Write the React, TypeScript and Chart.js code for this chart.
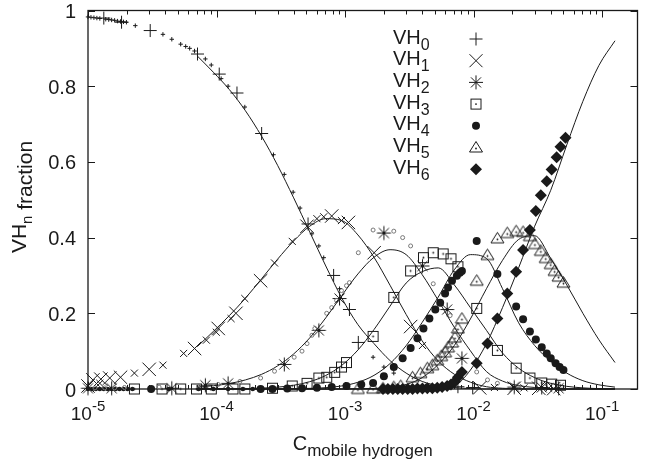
import React, { useEffect, useRef } from 'react';
import { Chart, registerables } from 'chart.js';

Chart.register(...registerables);

type Pair = [number, number]; // [log10(C mobile hydrogen), VHn fraction]

// ---- model curves: sampled at log10(C) positions ----
const curveLogC = [-4.15, -4.025, -3.9, -3.775, -3.65, -3.525, -3.4, -3.275, -3.15, -3.025, -2.9, -2.775, -2.65, -2.525, -2.4, -2.275, -2.15, -2.025, -1.9, -1.775, -1.65, -1.525, -1.4, -1.275, -1.15, -1.025, -0.9];
const curveVH0 = [0.88, 0.837, 0.791, 0.735, 0.668, 0.591, 0.505, 0.415, 0.325, 0.24, 0.17, 0.12, 0.075, 0.042, 0.02, 0.009, 0.004, 0.001, 0, 0, 0, 0, 0, 0, 0, 0, 0];
const curveVH1 = [0.112, 0.152, 0.194, 0.24, 0.291, 0.343, 0.391, 0.43, 0.45, 0.445, 0.407, 0.348, 0.274, 0.197, 0.127, 0.074, 0.039, 0.018, 0.006, 0.002, 0.0005, 0, 0, 0, 0, 0, 0];
const curveVH2 = [0.005, 0.0086, 0.0145, 0.024, 0.0387, 0.061, 0.0926, 0.135, 0.188, 0.247, 0.304, 0.348, 0.368, 0.355, 0.302, 0.234, 0.163, 0.101, 0.046, 0.021, 0.009, 0.004, 0.001, 0, 0, 0, 0];
const curveVH3 = [0, 0.0002, 0.0005, 0.0011, 0.0023, 0.0049, 0.0099, 0.0193, 0.0358, 0.0627, 0.103, 0.157, 0.219, 0.28, 0.31, 0.32, 0.275, 0.215, 0.155, 0.095, 0.055, 0.03, 0.015, 0.007, 0.003, 0.001, 0.0005];
const curveVH4 = [0, 0, 0, 0, 0.0001, 0.0002, 0.0005, 0.0014, 0.0035, 0.0081, 0.0178, 0.036, 0.0673, 0.1145, 0.176, 0.243, 0.315, 0.355, 0.345, 0.265, 0.175, 0.115, 0.073, 0.042, 0.022, 0.011, 0.005];
const curveVH5 = [0, 0, 0, 0, 0, 0, 0, 0, 0, 0.0002, 0.0005, 0.0015, 0.004, 0.012, 0.03, 0.065, 0.115, 0.185, 0.265, 0.34, 0.395, 0.405, 0.345, 0.275, 0.2, 0.13, 0.07];
const curveVH6 = [0, 0, 0, 0, 0, 0, 0, 0, 0, 0, 0, 0, 0, 0, 0.0005, 0.002, 0.008, 0.05, 0.12, 0.215, 0.32, 0.43, 0.525, 0.645, 0.76, 0.855, 0.92];

// ---- measured points ----
const vh0Big: Pair[] = [[-4.877, 0.98], [-4.739, 0.969], [-4.516, 0.947], [-4.148, 0.885], [-3.979, 0.832], [-3.841, 0.782], [-3.649, 0.675], [-3.288, 0.436], [-3.089, 0.3], [-2.966, 0.21], [-2.897, 0.123], [-2.122, 0.006], [-2.007, 0.004]];
const vh0Small: Pair[] = [[-5.0, 0.983], [-4.977, 0.982], [-4.954, 0.981], [-4.931, 0.98], [-4.908, 0.979], [-4.862, 0.977], [-4.839, 0.976], [-4.816, 0.975], [-4.793, 0.974], [-4.77, 0.972], [-4.747, 0.971], [-4.724, 0.97], [-4.701, 0.969], [-4.632, 0.96], [-4.417, 0.937], [-4.348, 0.924], [-4.279, 0.911], [-4.24, 0.905], [-4.209, 0.9], [-4.171, 0.893], [-4.087, 0.872], [-4.041, 0.856], [-3.964, 0.82], [-3.91, 0.8], [-3.78, 0.745], [-3.557, 0.619], [-3.473, 0.567], [-3.404, 0.52], [-3.35, 0.478], [-3.258, 0.41], [-3.204, 0.378], [-3.166, 0.347], [-3.043, 0.265], [-2.782, 0.084], [-2.698, 0.058], [-2.621, 0.042], [-2.375, 0.008], [-2.183, 0.003]];
const vh1Big: Pair[] = [[-5.0, 0.008], [-4.962, 0.024], [-4.9, 0.026], [-4.831, 0.029], [-4.747, 0.031], [-4.524, 0.052], [-4.171, 0.107], [-3.987, 0.16], [-3.849, 0.2], [-3.657, 0.286], [-3.296, 0.43], [-3.104, 0.457], [-2.974, 0.44], [-2.774, 0.36], [-2.49, 0.165], [-1.953, 0.003], [-1.684, 0.002], [-1.493, 0.002], [-1.377, 0.001]];
const vh1Small: Pair[] = [[-4.908, 0.015], [-4.639, 0.042], [-4.417, 0.063], [-4.256, 0.094], [-4.079, 0.129], [-4.002, 0.15], [-3.887, 0.186], [-3.78, 0.239], [-3.549, 0.333], [-3.411, 0.39], [-3.219, 0.45], [-3.166, 0.455], [-3.028, 0.445], [-2.398, 0.115], [-1.838, 0.004], [-1.608, 0.003], [-1.416, 0.002]];
const vh2Big: Pair[] = [[-5.0, 0.002], [-4.816, 0.002], [-4.348, 0.002], [-4.087, 0.01], [-3.91, 0.015], [-3.473, 0.065], [-3.204, 0.155], [-3.043, 0.239], [-2.698, 0.412], [-2.398, 0.325], [-2.206, 0.21], [-2.091, 0.081], [-1.684, 0.005], [-1.47, 0.004], [-1.339, 0.002]];
const vh2Small: Pair[] = [[-4.946, 0.003], [-4.87, 0.003], [-4.793, 0.003], [-4.716, 0.004], [-4.447, 0.005], [-4.14, 0.008], [-3.987, 0.012], [-3.818, 0.02], [-3.657, 0.029], [-3.549, 0.047], [-3.396, 0.084], [-3.335, 0.1], [-3.296, 0.12], [-3.258, 0.142], [-3.235, 0.16], [-3.143, 0.2], [-3.104, 0.215], [-3.066, 0.234], [-3.028, 0.26], [-2.989, 0.273], [-2.966, 0.281], [-2.897, 0.36], [-2.782, 0.42], [-2.621, 0.417], [-2.552, 0.4], [-2.49, 0.378], [-2.314, 0.278], [-2.183, 0.194], [-2.145, 0.155], [-1.976, 0.045], [-1.892, 0.024], [-1.815, 0.015]];
const vh3Pts: Pair[] = [[-4.639, 0], [-4.424, 0], [-4.279, 0], [-4.156, 0], [-4.041, 0], [-3.872, 0], [-3.78, 0], [-3.565, 0.002], [-3.411, 0.008], [-3.296, 0.015], [-3.204, 0.029], [-3.143, 0.031], [-3.081, 0.044], [-3.028, 0.058], [-2.989, 0.07], [-2.782, 0.139], [-2.621, 0.242], [-2.49, 0.312], [-2.39, 0.347], [-2.314, 0.36], [-2.237, 0.357], [-2.176, 0.344], [-2.122, 0.323], [-1.976, 0.213], [-1.815, 0.102], [-1.669, 0.055], [-1.562, 0.029], [-1.47, 0.016], [-1.393, 0.013], [-1.324, 0.01]];
const vh4Big: Pair[] = [[-4.509, 0], [-3.657, 0], [-3.565, 0], [-3.45, 0.001], [-3.335, 0.002], [-3.219, 0.003], [-3.104, 0.005], [-2.989, 0.008], [-2.874, 0.012], [-2.782, 0.016], [-2.698, 0.034], [-2.621, 0.058], [-2.552, 0.081], [-2.49, 0.108], [-2.437, 0.134], [-2.39, 0.16], [-2.344, 0.186], [-2.298, 0.21], [-2.26, 0.228], [-2.222, 0.252], [-2.199, 0.268], [-2.168, 0.286], [-2.13, 0.299], [-2.107, 0.307], [-2.091, 0.312], [-1.976, 0.391], [-1.815, 0.304], [-1.669, 0.218], [-1.615, 0.184], [-1.562, 0.152], [-1.516, 0.131], [-1.47, 0.11], [-1.431, 0.094], [-1.4, 0.081], [-1.362, 0.068], [-1.331, 0.058], [-1.301, 0.05]];
const vh4Small: Pair[] = [[-5.0, 0], [-4.969, 0], [-4.939, 0], [-4.908, 0], [-4.877, 0], [-4.847, 0], [-4.816, 0], [-4.785, 0], [-4.755, 0], [-4.724, 0], [-4.693, 0], [-4.655, 0], [-4.371, 0], [-4.14, 0], [-4.025, 0], [-3.91, 0], [-3.795, 0], [-3.718, 0]];
const vh5Pts: Pair[] = [[-2.9, 0], [-2.782, 0.001], [-2.705, 0.002], [-2.621, 0.005], [-2.567, 0.008], [-2.475, 0.031], [-2.414, 0.042], [-2.36, 0.055], [-2.321, 0.063], [-2.283, 0.076], [-2.252, 0.087], [-2.222, 0.097], [-2.199, 0.11], [-2.168, 0.123], [-2.145, 0.136], [-2.122, 0.16], [-2.091, 0.186], [-1.976, 0.286], [-1.892, 0.354], [-1.815, 0.398], [-1.738, 0.412], [-1.669, 0.417], [-1.615, 0.415], [-1.562, 0.404], [-1.523, 0.383], [-1.477, 0.365], [-1.439, 0.346], [-1.4, 0.33], [-1.37, 0.312], [-1.339, 0.297], [-1.301, 0.281]];
const vh6Pts: Pair[] = [[-2.705, 0], [-2.667, 0], [-2.628, 0], [-2.59, 0], [-2.552, 0], [-2.513, 0], [-2.475, 0], [-2.437, 0.001], [-2.398, 0.001], [-2.36, 0.002], [-2.321, 0.002], [-2.283, 0.003], [-2.245, 0.005], [-2.206, 0.008], [-2.176, 0.012], [-2.145, 0.02], [-2.122, 0.031], [-2.091, 0.045], [-1.976, 0.068], [-1.892, 0.12], [-1.815, 0.186], [-1.738, 0.252], [-1.669, 0.31], [-1.615, 0.367], [-1.562, 0.42], [-1.516, 0.47], [-1.477, 0.512], [-1.431, 0.549], [-1.393, 0.58], [-1.354, 0.612], [-1.324, 0.64], [-1.285, 0.664]];

// ---- axes & labels ----
const xMin = 1e-5;
const xMax = 0.1884;
const xTickExps = [-5, -4, -3, -2, -1];
const xTickSup = ['-5', '-4', '-3', '-2', '-1'];
const yTicks = [0, 0.2, 0.4, 0.6, 0.8, 1];
const yTickLabels = ['0', '0.2', '0.4', '0.6', '0.8', '1'];
const legendBase = 'VH';
const legendSubs = ['0', '1', '2', '3', '4', '5', '6'];
const xTitleMain = 'C';
const xTitleSub = 'mobile hydrogen';
const yTitleMain = 'VH';
const yTitleSub = 'n';
const yTitleRest = ' fraction';

const FONT = '"Liberation Sans", Arial, Helvetica, sans-serif';
const INK = '#1a1a1a';

const pts = (arr: Pair[]) => arr.map(([l, f]) => ({ x: Math.pow(10, l), y: f }));
const curve = (vals: number[]) => vals.map((f, i) => ({ x: Math.pow(10, curveLogC[i]), y: f }));

function drawCross(g: CanvasRenderingContext2D, x: number, y: number, r: number) {
  g.beginPath(); g.moveTo(x - r, y); g.lineTo(x + r, y); g.moveTo(x, y - r); g.lineTo(x, y + r); g.stroke();
}
function drawX(g: CanvasRenderingContext2D, x: number, y: number, d: number) {
  g.beginPath(); g.moveTo(x - d, y - d); g.lineTo(x + d, y + d); g.moveTo(x + d, y - d); g.lineTo(x - d, y + d); g.stroke();
}
function drawStar(g: CanvasRenderingContext2D, x: number, y: number, r: number) {
  drawCross(g, x, y, r); drawX(g, x, y, r * 0.72);
}
function drawSquareDot(g: CanvasRenderingContext2D, x: number, y: number) {
  g.strokeRect(x - 5, y - 5, 10, 10);
  g.beginPath(); g.arc(x, y, 0.9, 0, Math.PI * 2); g.fill();
}
function drawTriDot(g: CanvasRenderingContext2D, x: number, y: number) {
  g.beginPath(); g.moveTo(x, y - 6); g.lineTo(x - 6.5, y + 4.5); g.lineTo(x + 6.5, y + 4.5); g.closePath(); g.stroke();
  g.beginPath(); g.arc(x, y + 1, 0.9, 0, Math.PI * 2); g.fill();
}
function drawDisc(g: CanvasRenderingContext2D, x: number, y: number, r: number) {
  g.beginPath(); g.arc(x, y, r, 0, Math.PI * 2); g.fill();
}
function drawDiamond(g: CanvasRenderingContext2D, x: number, y: number, r: number) {
  g.beginPath(); g.moveTo(x, y - r); g.lineTo(x + r, y); g.lineTo(x, y + r); g.lineTo(x - r, y); g.closePath(); g.fill();
}
function sprite(size: number, fn: (g: CanvasRenderingContext2D, c: number) => void) {
  const c = document.createElement('canvas');
  c.width = size; c.height = size;
  const g = c.getContext('2d')!;
  g.strokeStyle = INK; g.fillStyle = INK; g.lineWidth = 1;
  fn(g, size / 2);
  return c;
}

const gnuplotPlugin = {
  id: 'gnuplotFrame',
  beforeDatasetsDraw(chart: any) {
    const { ctx, chartArea: a, scales } = chart;
    const xs = scales.x, ys = scales.y;
    ctx.save();
    ctx.strokeStyle = INK;
    ctx.lineWidth = 1.3;
    ctx.strokeRect(a.left, a.top, a.right - a.left, a.bottom - a.top);
    ctx.lineWidth = 1;
    ctx.beginPath();
    for (const e of xTickExps) {
      for (let k = 1; k <= 9; k++) {
        const v = k * Math.pow(10, e);
        if (v < xMin * 0.999 || v > xMax) continue;
        const px = Math.round(xs.getPixelForValue(v)) + 0.5;
        const len = k === 1 ? 7 : 4;
        ctx.moveTo(px, a.bottom); ctx.lineTo(px, a.bottom - len);
        ctx.moveTo(px, a.top); ctx.lineTo(px, a.top + len);
      }
    }
    for (const v of yTicks) {
      const py = Math.round(ys.getPixelForValue(v)) + 0.5;
      ctx.moveTo(a.left, py); ctx.lineTo(a.left + 7, py);
      ctx.moveTo(a.right, py); ctx.lineTo(a.right - 7, py);
    }
    ctx.stroke();
    ctx.restore();
  },
  afterDraw(chart: any) {
    const { ctx, chartArea: a, scales } = chart;
    const xs = scales.x, ys = scales.y;
    ctx.save();
    ctx.fillStyle = INK;
    ctx.strokeStyle = INK;
    ctx.textBaseline = 'alphabetic';
    // y tick labels
    ctx.font = `20px ${FONT}`;
    ctx.textAlign = 'right';
    yTicks.forEach((v, i) => {
      const py = ys.getPixelForValue(v);
      ctx.fillText(yTickLabels[i], a.left - 12, py + 7.5);
    });
    // x tick labels 10^k
    ctx.textAlign = 'left';
    xTickExps.forEach((e, i) => {
      const px = xs.getPixelForValue(Math.pow(10, e));
      ctx.font = `19px ${FONT}`;
      const w1 = ctx.measureText('10').width;
      ctx.font = `15px ${FONT}`;
      const w2 = ctx.measureText(xTickSup[i]).width;
      const x0 = px - (w1 + w2) / 2;
      ctx.font = `19px ${FONT}`;
      ctx.fillText('10', x0, 420);
      ctx.font = `15px ${FONT}`;
      ctx.fillText(xTickSup[i], x0 + w1, 411);
    });
    // x title
    ctx.font = `20px ${FONT}`;
    const wc = ctx.measureText(xTitleMain).width;
    ctx.font = `17px ${FONT}`;
    const ws = ctx.measureText(xTitleSub).width;
    const tx = (a.left + a.right) / 2 - (wc + ws) / 2;
    ctx.font = `20px ${FONT}`;
    ctx.fillText(xTitleMain, tx, 450);
    ctx.font = `17px ${FONT}`;
    ctx.fillText(xTitleSub, tx + wc, 455.5);
    // y title (rotated)
    ctx.font = `21px ${FONT}`;
    const wvh = ctx.measureText(yTitleMain).width;
    const wfr = ctx.measureText(yTitleRest).width;
    ctx.font = `15px ${FONT}`;
    const wn = ctx.measureText(yTitleSub).width;
    const total = wvh + wn + wfr;
    ctx.save();
    ctx.translate(25.5, 197 + total / 2);
    ctx.rotate(-Math.PI / 2);
    ctx.font = `21px ${FONT}`;
    ctx.fillText(yTitleMain, 0, 0);
    ctx.font = `15px ${FONT}`;
    ctx.fillText(yTitleSub, wvh, 6);
    ctx.font = `21px ${FONT}`;
    ctx.fillText(yTitleRest, wvh + wn, 6);
    ctx.restore();
    // legend
    const lx = 393, mx = 476;
    legendSubs.forEach((s, i) => {
      const y = 39 + 21.7 * i;
      ctx.font = `20px ${FONT}`;
      ctx.fillText(legendBase, lx, y + 4.5);
      const w = ctx.measureText(legendBase).width;
      ctx.font = `16px ${FONT}`;
      ctx.fillText(s, lx + w, y + 10.5);
      ctx.lineWidth = 1;
      if (i === 0) drawCross(ctx, mx, y, 6.5);
      else if (i === 1) drawX(ctx, mx, y, 6.5);
      else if (i === 2) drawStar(ctx, mx, y, 7);
      else if (i === 3) drawSquareDot(ctx, mx, y);
      else if (i === 4) drawDisc(ctx, mx, y, 4);
      else if (i === 5) drawTriDot(ctx, mx, y);
      else drawDiamond(ctx, mx, y, 6);
    });
    ctx.restore();
  },
};

export default function App() {
  const ref = useRef<HTMLCanvasElement>(null);
  useEffect(() => {
    document.body.style.margin = '0';
    const canvas = ref.current;
    if (!canvas) return;
    const starImg = sprite(17, (g, c) => drawStar(g, c, c, 7));
    const squareImg = sprite(13, (g, c) => drawSquareDot(g, c, c));
    const triImg = sprite(15, (g, c) => drawTriDot(g, c, c));

    const line = (vals: number[]) => ({
      data: curve(vals), showLine: true, pointRadius: 0, borderColor: INK, borderWidth: 1,
      cubicInterpolationMode: 'monotone', tension: 0.4, fill: false, clip: false,
    });
    const mk = (arr: Pair[], style: any, r: number, extra: any = {}) => ({
      data: pts(arr), showLine: false, pointStyle: style, pointRadius: r,
      pointBorderColor: INK, pointBackgroundColor: 'rgba(0,0,0,0)', pointBorderWidth: 1, clip: false, ...extra,
    });

    const datasets: any[] = [
      line(curveVH0), line(curveVH1), line(curveVH2), line(curveVH3), line(curveVH4), line(curveVH5), line(curveVH6),
      mk(vh0Small, 'cross', 2.2),
      mk(vh0Big, 'cross', 6.5),
      mk(vh1Small, 'crossRot', 5),
      mk(vh1Big, 'crossRot', 9.5),
      mk(vh2Small, 'circle', 2, { pointBorderColor: '#777' }),
      mk(vh2Big, starImg, 7),
      mk(vh3Pts, squareImg, 6),
      mk(vh4Small, 'circle', 2.3, { pointBackgroundColor: INK, pointBorderWidth: 0 }),
      mk(vh4Big, 'circle', 4, { pointBackgroundColor: INK, pointBorderWidth: 0 }),
      mk(vh5Pts, triImg, 6),
      mk(vh6Pts, 'rectRot', 6, { pointBackgroundColor: INK, pointBorderWidth: 0 }),
    ];

    const chart = new Chart(canvas, {
      type: 'scatter',
      data: { datasets },
      options: {
        responsive: false,
        animation: false,
        events: [],
        layout: { padding: { top: 8, right: 3, left: 0, bottom: 0 } },
        scales: {
          x: {
            type: 'logarithmic', min: xMin, max: xMax,
            ticks: { display: false }, grid: { display: false }, border: { display: false },
            afterFit: (s: any) => { s.height = 77; },
          },
          y: {
            type: 'linear', min: 0, max: 1,
            ticks: { display: false }, grid: { display: false }, border: { display: false },
            afterFit: (s: any) => { s.width = 88; },
          },
        },
        plugins: { legend: { display: false }, tooltip: { enabled: false } },
      } as any,
      plugins: [gnuplotPlugin],
    });
    return () => chart.destroy();
  }, []);
  return <canvas ref={ref} width={648} height={466} style={{ display: 'block', width: 648, height: 466 }} />;
}
